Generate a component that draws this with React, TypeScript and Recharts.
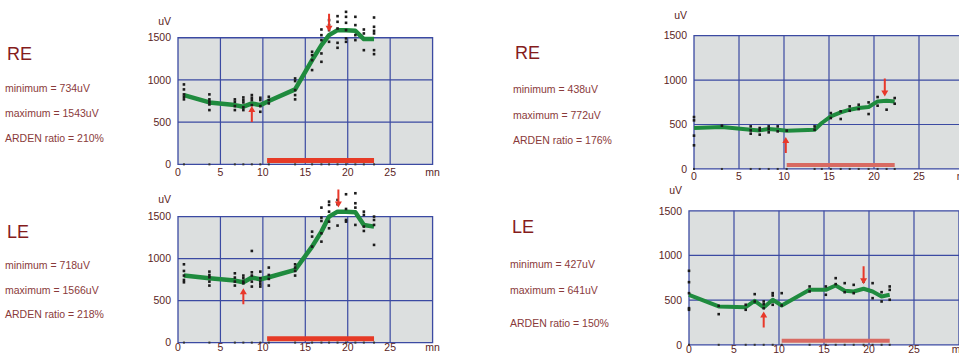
import {
  ComposedChart,
  XAxis,
  YAxis,
  Line,
  Scatter,
  ReferenceArea,
  ReferenceLine,
} from "recharts";

// minutes on the x axis, uV on the y axis
const MINUTE_TICKS = [0, 5, 10, 15, 20, 25, 30];
const UV_GRID = [500, 1000];

// === RE, left recording ===
const reLeftTimes = [0.7, 3.7, 6.7, 7.7, 8.7, 9.7, 10.7, 13.8, 15.8, 16.9, 17.8, 18.8, 19.8, 20.9, 21.9, 23.1];
const reLeftMean = [821, 734, 702, 683, 722, 702, 750, 888, 1235, 1413, 1531, 1590, 1588, 1582, 1484, 1484];
const reLeftDots = [
  [947, 888, 829, 801, 770],
  [829, 770, 742, 710, 643],
  [770, 742, 690, 643],
  [793, 762, 734, 675, 643],
  [821, 789, 762, 702],
  [789, 762, 690, 623],
  [801, 762, 722],
  [1018, 987, 880, 821, 770],
  [1334, 1294, 1235, 1117],
  [1598, 1531, 1472, 1314, 1215],
  [1709, 1650, 1590, 1452],
  [1756, 1689, 1610, 1440, 1381],
  [1807, 1748, 1677, 1590, 1492, 1452],
  [1748, 1650, 1531, 1472],
  [1598, 1551, 1353],
  [1740, 1630, 1582, 1551, 1353, 1306],
];
const reLeftUp = [{ t: 8.7, v: 690 }];
const reLeftDown = [{ t: 17.8, v: 1570 }];
const reLeftLight = [10.5, 23.1];
const reLeftStats = ["minimum = 734uV", "maximum = 1543uV", "ARDEN ratio = 210%"];

// === LE, left recording ===
const leLeftTimes = [0.7, 3.7, 6.7, 7.7, 8.7, 9.7, 10.7, 13.8, 15.8, 16.9, 17.8, 18.8, 19.8, 20.9, 21.9, 23.1];
const leLeftMean = [798, 766, 738, 718, 774, 754, 778, 865, 1143, 1321, 1500, 1559, 1557, 1551, 1401, 1381];
const leLeftDots = [
  [932, 853, 798, 746, 718],
  [845, 805, 778, 726, 679],
  [825, 774, 726, 679],
  [798, 766, 726, 706],
  [1091, 837, 798, 726, 667],
  [845, 766, 726, 694, 667],
  [893, 805, 758, 679],
  [932, 893, 853, 798],
  [1321, 1262, 1143],
  [1607, 1488, 1448, 1301, 1202],
  [1678, 1639, 1559, 1440, 1361],
  [1698, 1647, 1393],
  [1766, 1591, 1460, 1440],
  [1778, 1659, 1607, 1401],
  [1559, 1520, 1381, 1329],
  [1500, 1460, 1401, 1163],
];
const leLeftUp = [{ t: 7.7, v: 647 }];
const leLeftDown = [{ t: 18.9, v: 1607 }];
const leLeftLight = [10.5, 23.1];
const leLeftStats = ["minimum = 718uV", "maximum = 1566uV", "ARDEN ratio = 218%"];

// === RE, right recording ===
const reRightTimes = [0, 3.1, 6.3, 7.3, 8.3, 9.3, 10.3, 13.4, 14.2, 15.2, 16.3, 17.3, 18.3, 19.4, 20.4, 21.4, 22.3];
const reRightMean = [461, 472, 442, 434, 449, 442, 431, 442, 517, 592, 637, 667, 685, 697, 760, 768, 760];
const reRightDots = [
  [584, 547, 375, 266],
  [487],
  [479, 434, 397],
  [461, 434, 386],
  [479, 449, 412],
  [479, 423],
  [431],
  [479, 442],
  [],
  [629, 573],
  [648, 562],
  [704, 655],
  [723, 674],
  [749, 618],
  [809, 712],
  [667],
  [798, 734],
];
const reRightUp = [{ t: 10.2, v: 360 }];
const reRightDown = [{ t: 21.2, v: 816 }];
const reRightLight = [10.3, 22.3];
const reRightStats = ["minimum = 438uV", "maximum = 772uV", "ARDEN ratio = 176%"];

// === LE, right recording ===
const leRightTimes = [0, 3.3, 6.3, 7.3, 8.3, 9.3, 10.3, 13.4, 15.2, 16.3, 17.3, 18.3, 19.4, 20.4, 21.4, 22.3];
const leRightMean = [560, 429, 421, 492, 418, 504, 440, 615, 615, 664, 604, 597, 627, 597, 541, 560];
const leRightDots = [
  [828, 701, 578, 410, 392],
  [436, 343],
  [448, 392],
  [567, 485],
  [485, 455, 410],
  [578, 552, 448],
  [578, 440],
  [653, 597],
  [653, 560],
  [746, 679],
  [690, 589],
  [671, 578],
  [709],
  [690, 522],
  [589, 485],
  [653, 615, 504],
];
const leRightUp = [{ t: 8.3, v: 373 }];
const leRightDown = [{ t: 19.4, v: 679 }];
const leRightLight = [10.3, 22.3];
const leRightStats = ["minimum = 427uV", "maximum = 641uV", "ARDEN ratio = 150%"];

const FONT = '"Liberation Sans", Arial, sans-serif';
const GREEN = "#1f8b3e";
const GRID_BLUE = "#3b4aa2";
const PLOT_BG = "#dcdfdf";
const TICK_COLOR = "#5a2424";

type Geo = {
  left: number; // pixel of 0 mn
  right: number; // pixel of 30 mn
  top: number; // pixel of 1500 uV
  bottom: number; // pixel of 0 uV
  yMax: number;
  uvTick: number;
  xh: number;
  labelGap: number;
};

function upArrow(p: any) {
  const { cx, cy } = p;
  return (
    <polygon
      points={`${cx},${cy} ${cx - 3.5},${cy + 6} ${cx - 1},${cy + 6} ${cx - 1},${cy + 16} ${cx + 1},${cy + 16} ${cx + 1},${cy + 6} ${cx + 3.5},${cy + 6}`}
      fill="#e8382a"
    />
  );
}

function downArrow(p: any) {
  const { cx, cy } = p;
  return (
    <polygon
      points={`${cx},${cy} ${cx - 3.5},${cy - 6} ${cx - 1},${cy - 6} ${cx - 1},${cy - 18} ${cx + 1},${cy - 18} ${cx + 1},${cy - 6} ${cx + 3.5},${cy - 6}`}
      fill="#e8382a"
    />
  );
}

function dotShape(p: any) {
  return <rect x={p.cx - 1.3} y={p.cy - 1.3} width={2.6} height={2.6} fill="#1b1b1b" />;
}

function baseShape(p: any) {
  return <rect x={p.cx - 1} y={p.cy - 1} width={2} height={2} fill="#333" />;
}

function EyeChart({
  geo,
  times,
  mean,
  dots,
  up,
  down,
  light,
  lineWidth,
  lightColor,
  lightWidth,
}: {
  geo: Geo;
  times: number[];
  mean: number[];
  dots: number[][];
  up: { t: number; v: number }[];
  down: { t: number; v: number }[];
  light: number[];
  lineWidth: number;
  lightColor: string;
  lightWidth: number;
}) {
  const yw = 40;
  const mr = 14;
  const perUnit = (geo.bottom - geo.top) / 1500;
  const plotTop = geo.bottom - geo.yMax * perUnit;
  const width = geo.right - geo.left + yw + mr;
  const height = geo.bottom - plotTop + geo.xh;

  const meanData = times.map((t, i) => ({ t, v: mean[i] }));
  const dotData = times.flatMap((t, i) => dots[i].map((v) => ({ t, v })));
  const baseData = times.map((t) => ({ t, v: 0 }));

  return (
    <div style={{ position: "absolute", left: geo.left - yw, top: plotTop, width, height }}>
      <ComposedChart width={width} height={height} margin={{ top: 0, right: mr, bottom: 0, left: 0 }}>
        <XAxis
          type="number"
          dataKey="t"
          domain={[0, 30]}
          ticks={MINUTE_TICKS}
          tickFormatter={(v: number) => (v === 30 ? "mn" : String(v))}
          axisLine={false}
          tickLine={false}
          tickSize={geo.labelGap}
          tickMargin={1}
          height={geo.xh}
          interval={0}
          tick={{ fill: TICK_COLOR, fontSize: 10.5, fontFamily: FONT }}
        />
        <YAxis
          type="number"
          dataKey="v"
          domain={[0, geo.yMax]}
          ticks={[0, 500, 1000, 1500, geo.uvTick]}
          tickFormatter={(v: number) => (v === geo.uvTick ? "uV" : String(v))}
          axisLine={false}
          tickLine={false}
          tickSize={3}
          tickMargin={4}
          width={yw}
          interval={0}
          tick={{ fill: TICK_COLOR, fontSize: 10.5, fontFamily: FONT }}
        />
        <ReferenceArea
          x1={0}
          x2={30}
          y1={0}
          y2={1500}
          fill={PLOT_BG}
          fillOpacity={1}
          stroke={GRID_BLUE}
          strokeWidth={1.3}
          zIndex={-100}
        />
        {MINUTE_TICKS.slice(1, -1).map((m) => (
          <ReferenceLine
            key={"x" + m}
            segment={[{ x: m, y: 0 }, { x: m, y: 1500 }]}
            stroke={GRID_BLUE}
            strokeWidth={1.2}
            zIndex={50}
          />
        ))}
        {UV_GRID.map((u) => (
          <ReferenceLine
            key={"y" + u}
            segment={[{ x: 0, y: u }, { x: 30, y: u }]}
            stroke={GRID_BLUE}
            strokeWidth={1.2}
            zIndex={50}
          />
        ))}
        <ReferenceLine
          segment={[{ x: light[0], y: 45 }, { x: light[1], y: 45 }]}
          stroke={lightColor}
          strokeWidth={lightWidth}
          zIndex={60}
        />
        <Scatter data={baseData} shape={baseShape} isAnimationActive={false} />
        <Line
          data={meanData}
          dataKey="v"
          type="linear"
          stroke={GREEN}
          strokeWidth={lineWidth}
          strokeLinejoin="round"
          dot={false}
          activeDot={false}
          isAnimationActive={false}
        />
        <Scatter data={dotData} shape={dotShape} isAnimationActive={false} />
        <Scatter data={up} shape={upArrow} isAnimationActive={false} />
        <Scatter data={down} shape={downArrow} isAnimationActive={false} />
      </ComposedChart>
    </div>
  );
}

function Caption({
  x,
  eyeY,
  statYs,
  eye,
  stats,
}: {
  x: number;
  eyeY: number;
  statYs: number[];
  eye: string;
  stats: string[];
}) {
  return (
    <>
      <div
        style={{
          position: "absolute",
          left: x + 2,
          top: eyeY - 9,
          fontSize: 18,
          lineHeight: 1,
          color: "#841c1c",
          fontFamily: FONT,
        }}
      >
        {eye}
      </div>
      {stats.map((s, i) => (
        <div
          key={s}
          style={{
            position: "absolute",
            left: x,
            top: statYs[i] - 5.5,
            fontSize: 10.5,
            lineHeight: 1,
            color: "#8a3a3a",
            fontFamily: FONT,
            whiteSpace: "nowrap",
          }}
        >
          {s}
        </div>
      ))}
    </>
  );
}

export default function App() {
  return (
    <div
      style={{
        position: "fixed",
        left: 0,
        top: 0,
        width: 959,
        height: 355,
        overflow: "hidden",
        background: "#fff",
      }}
    >
      <Caption x={5} eyeY={54} statYs={[88, 113, 138]} eye="RE" stats={reLeftStats} />
      <Caption x={5} eyeY={232} statYs={[265, 290, 314]} eye="LE" stats={leLeftStats} />
      <Caption x={513} eyeY={53} statYs={[89, 115, 140]} eye="RE" stats={reRightStats} />
      <Caption x={510} eyeY={227} statYs={[264, 290, 323]} eye="LE" stats={leRightStats} />

      <EyeChart
        geo={{ left: 177.7, right: 432.3, top: 37.7, bottom: 164.3, yMax: 1900, uvTick: 1700, xh: 16, labelGap: 3 }}
        times={reLeftTimes}
        mean={reLeftMean}
        dots={reLeftDots}
        up={reLeftUp}
        down={reLeftDown}
        light={reLeftLight}
        lineWidth={4.5}
        lightColor="#e63a26"
        lightWidth={5}
      />
      <EyeChart
        geo={{ left: 177.7, right: 432.3, top: 216.3, bottom: 342.3, yMax: 1900, uvTick: 1710, xh: 12.7, labelGap: 0 }}
        times={leLeftTimes}
        mean={leLeftMean}
        dots={leLeftDots}
        up={leLeftUp}
        down={leLeftDown}
        light={leLeftLight}
        lineWidth={4.5}
        lightColor="#e63a26"
        lightWidth={5}
      />
      <EyeChart
        geo={{ left: 694, right: 964, top: 36, bottom: 169.3, yMax: 1800, uvTick: 1725, xh: 14.5, labelGap: 3 }}
        times={reRightTimes}
        mean={reRightMean}
        dots={reRightDots}
        up={reRightUp}
        down={reRightDown}
        light={reRightLight}
        lineWidth={4}
        lightColor="#d86a62"
        lightWidth={4}
      />
      <EyeChart
        geo={{ left: 689, right: 959, top: 211, bottom: 345, yMax: 1800, uvTick: 1730, xh: 10, labelGap: 0 }}
        times={leRightTimes}
        mean={leRightMean}
        dots={leRightDots}
        up={leRightUp}
        down={leRightDown}
        light={leRightLight}
        lineWidth={4}
        lightColor="#d86a62"
        lightWidth={4}
      />
    </div>
  );
}
